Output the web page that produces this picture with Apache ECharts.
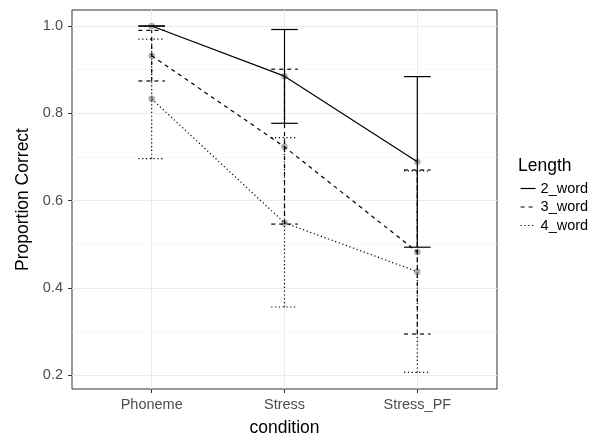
<!DOCTYPE html>
<html>
<head>
<meta charset="utf-8">
<script src="https://cdn.jsdelivr.net/npm/echarts@6/dist/echarts.min.js"></script>
<style>
html,body{margin:0;padding:0;background:#fff;}
#chart{width:603px;height:437px;}
</style>
</head>
<body>
<div id="chart"></div>
<script>
var categories = ['Phoneme', 'Stress', 'Stress_PF'];
var seriesNames = ['2_word', '3_word', '4_word'];
var mean2 = [1.0, 0.885, 0.689];
var lo2   = [1.0, 0.777, 0.493];
var hi2   = [1.0, 0.992, 0.884];
var mean3 = [0.932, 0.723, 0.482];
var lo3   = [0.874, 0.546, 0.294];
var hi3   = [0.990, 0.901, 0.670];
var mean4 = [0.833, 0.549, 0.437];
var lo4   = [0.696, 0.356, 0.206];
var hi4   = [0.970, 0.744, 0.668];
var yTicks = [0.2, 0.4, 0.6, 0.8, 1.0];
var yMinorTicks = [0.3, 0.5, 0.7, 0.9];

var FONT = 'Liberation Sans, Arial, sans-serif';
var TICK_FS = 14.5;
var TITLE_FS = 17.5;
var means = [mean2, mean3, mean4];
var los = [lo2, lo3, lo4];
var his = [hi2, hi3, hi4];
var dashes = ['solid', [4, 4], [1.2, 2.6]];
var capHalf = 0.1;

function xyData(arr) {
  return arr.map(function (v, i) { return [i, v]; });
}

var series = [];
seriesNames.forEach(function (name, k) {
  series.push({
    name: name,
    type: 'line',
    data: xyData(means[k]),
    symbol: 'none',
    lineStyle: { color: '#000', width: 1.2, type: dashes[k] },
    itemStyle: { color: '#000' },
    z: 3,
    animation: false
  });
});
seriesNames.forEach(function (name, k) {
  series.push({
    type: 'custom',
    name: name + '_err',
    data: categories.map(function (c, i) { return [i, los[k][i], his[k][i]]; }),
    renderItem: function (params, api) {
      var x = api.value(0), lo = api.value(1), hi = api.value(2);
      var pLo = api.coord([x, lo]);
      var pHi = api.coord([x, hi]);
      var pL = api.coord([x - capHalf, lo]);
      var pR = api.coord([x + capHalf, lo]);
      var style = { stroke: '#000', lineWidth: 1.2, fill: null, lineDash: dashes[k] === 'solid' ? null : dashes[k] };
      return {
        type: 'group',
        children: [
          { type: 'line', shape: { x1: pLo[0], y1: pLo[1], x2: pHi[0], y2: pHi[1] }, style: style },
          { type: 'line', shape: { x1: pL[0], y1: pLo[1], x2: pR[0], y2: pLo[1] }, style: style },
          { type: 'line', shape: { x1: pL[0], y1: pHi[1], x2: pR[0], y2: pHi[1] }, style: style }
        ]
      };
    },
    z: 4,
    animation: false
  });
});
seriesNames.forEach(function (name, k) {
  series.push({
    type: 'scatter',
    name: name + '_pt',
    data: xyData(means[k]),
    symbol: 'circle',
    symbolSize: 6.5,
    itemStyle: { color: '#999999' },
    z: 2,
    animation: false
  });
});

var option = {
  backgroundColor: '#fff',
  animation: false,
  textStyle: { fontFamily: FONT },
  title: {
    text: 'Length',
    left: 518, top: 157,
    padding: 0,
    textStyle: { fontFamily: FONT, fontSize: TITLE_FS, fontWeight: 'normal', color: '#000' }
  },
  legend: {
    data: seriesNames,
    orient: 'vertical',
    left: 520, top: 181,
    padding: 0,
    itemWidth: 15, itemHeight: 14, itemGap: 3.5,
    itemStyle: { color: 'rgba(0,0,0,0)', borderWidth: 0, opacity: 0 },
    lineStyle: { width: 1.2 },
    textStyle: { fontFamily: FONT, fontSize: TICK_FS, color: '#000', padding: [0, 0, 0, 0] },
    selectedMode: false
  },
  grid: {
    left: 72, top: 10, right: 106, bottom: 48,
    containLabel: false,
    outerBoundsMode: 'none',
    show: true, borderColor: '#333333', borderWidth: 1, backgroundColor: '#fff'
  },
  xAxis: {
    type: 'value',
    min: -0.6, max: 2.6,
    name: 'condition',
    nameLocation: 'middle',
    nameGap: 30,
    nameTextStyle: { fontFamily: FONT, fontSize: TITLE_FS, color: '#000' },
    axisLine: { show: false, onZero: false },
    axisTick: { show: true, length: 4, customValues: [0, 1, 2], lineStyle: { color: '#333' } },
    axisLabel: {
      customValues: [0, 1, 2],
      margin: 8,
      fontFamily: FONT, fontSize: TICK_FS, color: '#4d4d4d',
      formatter: function (v) { return categories[Math.round(v)] || ''; }
    },
    splitLine: { show: true, lineStyle: { color: '#ebebeb', width: 1 } }
  },
  yAxis: [{
    type: 'value',
    min: 0.168, max: 1.0367,
    name: 'Proportion Correct',
    nameLocation: 'middle',
    nameGap: 36,
    nameRotate: 90,
    nameTextStyle: { fontFamily: FONT, fontSize: TITLE_FS, color: '#000' },
    axisLine: { show: false, onZero: false },
    axisTick: { show: true, length: 4, customValues: yTicks, lineStyle: { color: '#333' } },
    axisLabel: {
      customValues: yTicks,
      margin: 9,
      fontFamily: FONT, fontSize: TICK_FS, color: '#4d4d4d',
      formatter: function (v) { return v.toFixed(1); }
    },
    splitLine: { show: true, lineStyle: { color: '#ebebeb', width: 1 } }
  }, {
    type: 'value',
    min: 0.168, max: 1.0367,
    position: 'left',
    axisLine: { show: false, onZero: false },
    axisTick: { show: false, customValues: yMinorTicks },
    axisLabel: { show: false, customValues: yMinorTicks },
    splitLine: { show: true, lineStyle: { color: '#f3f3f3', width: 0.6 } }
  }],
  series: series
};

var chart = echarts.init(document.getElementById('chart'), null, { renderer: 'canvas' });
chart.setOption(option);
</script>
</body>
</html>
